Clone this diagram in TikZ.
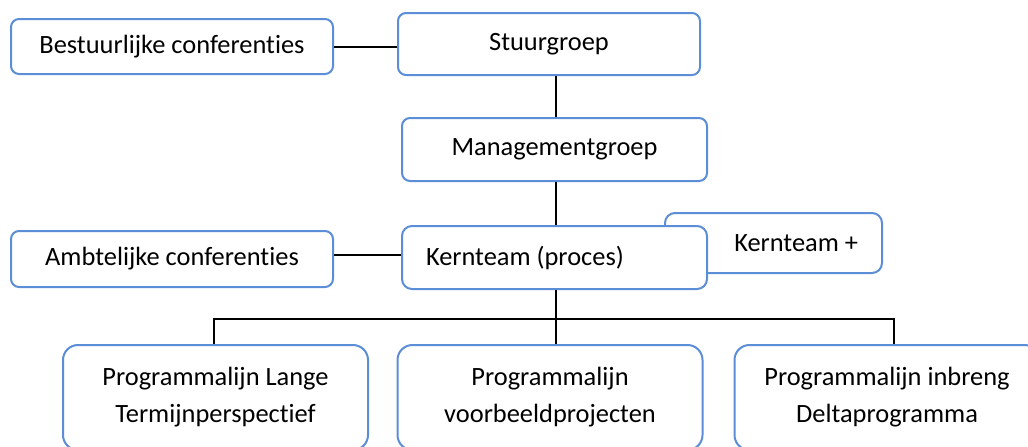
\documentclass[tikz,border=0pt]{standalone}
\usepackage{fontspec}
\setmainfont{Carlito}[Ligatures=NoCommon]
\usetikzlibrary{positioning}
\definecolor{boxblue}{RGB}{91,142,214}

\begin{document}
\begin{tikzpicture}[x=0.5pt, y=-0.5pt,
    box/.style={draw=boxblue, line width=1pt, rounded corners=4pt, fill=white,
        font=\fontsize{13.2}{18.5}\selectfont, inner sep=0pt},
    progbox/.style={box, rounded corners=7.5pt, align=center,
        minimum width=152.5pt, minimum height=52.5pt},
    link/.style={line width=1pt}]
\useasboundingbox (0,0) rectangle (1028,446);
\clip (0,0) rectangle (1028,446);

\node[box, minimum width=161pt, minimum height=27.5pt] (bestuurlijk) at (172,46.5) {Bestuurlijke conferenties};
\node[box, minimum width=151pt, minimum height=31pt] (stuurgroep) at (549,44) {Stuurgroep};
\node[box, minimum width=152.5pt, minimum height=31.5pt] (management) at (554.5,149.5) {Managementgroep};
\node[box, rounded corners=5pt, text width=84.5pt, align=flush right, inner xsep=12pt,
    minimum height=30pt] (kernplus) at (773.5,243) {Kernteam +};
\node[box, rounded corners=5pt, text width=128.5pt, align=flush left, inner xsep=12pt,
    minimum height=31.5pt] (kernteam) at (554.5,257.5) {Kernteam (proces)};
\node[box, minimum width=161pt, minimum height=28pt] (ambtelijk) at (172,259) {Ambtelijke conferenties};

\node[progbox] (lijn1) at (215.5,397.5) {Programmalijn Lange\\Termijnperspectief};
\node[progbox] (lijn2) at (550,397.5) {Programmalijn\\voorbeeldprojecten};
\node[progbox] (lijn3) at (887,397.5) {Programmalijn inbreng\\Deltaprogramma};

\draw[link] (bestuurlijk.east) -- (bestuurlijk.east -| stuurgroep.west);
\draw[link] ([xshift=0.75pt]management.north) -- ([xshift=0.75pt]management.north |- stuurgroep.south);
\draw[link] ([xshift=0.75pt]kernteam.north) -- ([xshift=0.75pt]kernteam.north |- management.south);
\draw[link] ([yshift=2pt]ambtelijk.east) -- ([yshift=2pt]ambtelijk.east -| kernteam.west);

\coordinate (bus) at (556,319);
\draw[link] ([xshift=0.75pt]kernteam.south) -- ([xshift=0.75pt]kernteam.south |- lijn2.north);
\draw[link] ([xshift=-1pt]lijn1.north) |- (bus) -| ([xshift=3.5pt]lijn3.north);
\end{tikzpicture}
\end{document}
